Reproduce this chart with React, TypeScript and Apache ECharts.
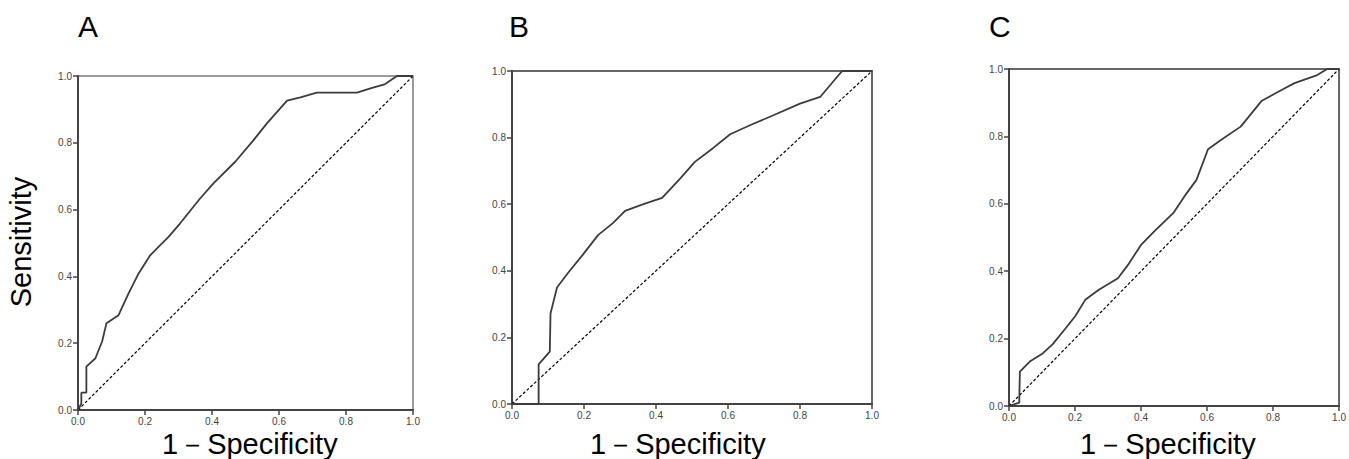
import React, { useEffect, useRef } from "react";
import * as echarts from "echarts";

const panelLabels = ["A", "B", "C"];
const yAxisTitle = "Sensitivity";
const xAxisTitle = "1－Specificity";
const diagonalX = [0, 1];
const diagonalY = [0, 1];

const fprA = [0, 0.01, 0.01, 0.025, 0.025, 0.052, 0.072, 0.085, 0.121, 0.151, 0.181, 0.216, 0.241, 0.271, 0.305, 0.365, 0.405, 0.47, 0.524, 0.564, 0.624, 0.664, 0.713, 0.833, 0.873, 0.917, 0.952, 1.0];
const tprA = [0, 0.02, 0.052, 0.052, 0.13, 0.155, 0.205, 0.26, 0.284, 0.349, 0.409, 0.464, 0.489, 0.519, 0.559, 0.634, 0.679, 0.744, 0.808, 0.858, 0.926, 0.936, 0.95, 0.95, 0.963, 0.976, 1.0, 1.0];

const fprB = [0, 0.074, 0.074, 0.105, 0.107, 0.125, 0.156, 0.198, 0.239, 0.281, 0.314, 0.365, 0.417, 0.467, 0.508, 0.559, 0.606, 0.661, 0.726, 0.8, 0.856, 0.917, 1.0];
const tprB = [0, 0, 0.119, 0.157, 0.272, 0.35, 0.394, 0.45, 0.507, 0.544, 0.58, 0.6, 0.619, 0.677, 0.727, 0.769, 0.81, 0.837, 0.867, 0.902, 0.922, 1.0, 1.0];

const fprC = [0, 0.031, 0.033, 0.063, 0.102, 0.132, 0.171, 0.201, 0.231, 0.271, 0.33, 0.36, 0.4, 0.444, 0.499, 0.538, 0.568, 0.603, 0.642, 0.702, 0.731, 0.766, 0.83, 0.865, 0.934, 0.964, 1.0];
const tprC = [0, 0.01, 0.102, 0.132, 0.156, 0.183, 0.23, 0.267, 0.315, 0.344, 0.379, 0.418, 0.478, 0.522, 0.574, 0.631, 0.671, 0.762, 0.789, 0.829, 0.864, 0.906, 0.94, 0.958, 0.982, 1.0, 1.0];

const curvesX = [fprA, fprB, fprC];
const curvesY = [tprA, tprB, tprC];

const zip = (xs: number[], ys: number[]) => xs.map((x, i) => [x, ys[i]]);

const grids = [
  { left: 78, top: 76, width: 335, height: 334, borderWidth: 1.5, borderColor: "#7a7a7a" },
  { left: 512, top: 71, width: 360, height: 333, borderWidth: 2, borderColor: "#666" },
  { left: 1009, top: 69, width: 336, height: 337, borderWidth: 2, borderColor: "#666" },
];
const titlePos = [
  { x: 78, y: 26 },
  { x: 509, y: 26 },
  { x: 989, y: 26 },
];
const xTitlePos = [162, 590, 1080];

export default function App() {
  const ref = useRef<HTMLDivElement>(null);
  useEffect(() => {
    document.body.style.margin = "0";
    const chart = echarts.init(ref.current!, null, { renderer: "svg" });
    const font = "'Liberation Sans', Arial, sans-serif";
    const axisCommon = {
      type: "value" as const,
      min: 0,
      max: 1,
      interval: 0.2,
      splitLine: { show: false },
      axisLine: { show: true, lineStyle: { color: "#444", width: 2 } },
      axisTick: { show: true, inside: false, length: 5, lineStyle: { color: "#444", width: 1.5 } },
      axisLabel: {
        fontSize: 10,
        color: "#444",
        fontFamily: font,
        formatter: (v: number) => v.toFixed(1),
      },
    };
    const series: any[] = [];
    for (let i = 0; i < 3; i++) {
      series.push({
        type: "line",
        xAxisIndex: i,
        yAxisIndex: i,
        data: zip(curvesX[i], curvesY[i]),
        showSymbol: false,
        symbol: "none",
        clip: false,
        lineStyle: { color: "#3c3c3c", width: 1.8 },
        z: 3,
      });
      series.push({
        type: "line",
        xAxisIndex: i,
        yAxisIndex: i,
        data: zip(diagonalX, diagonalY),
        showSymbol: false,
        symbol: "none",
        lineStyle: { color: "#000", width: 1.2, type: [3, 2] },
        z: 2,
      });
    }
    const graphics: any[] = [];
    panelLabels.forEach((lab, i) => {
      graphics.push({
        type: "text",
        x: titlePos[i].x,
        y: titlePos[i].y,
        style: {
          text: lab,
          font: `30px ${font}`,
          fill: "#000",
          textAlign: "left",
          textVerticalAlign: "middle",
        },
      });
      graphics.push({
        type: "text",
        x: xTitlePos[i],
        y: 444,
        style: {
          text: xAxisTitle,
          font: `29px ${font}`,
          fill: "#000",
          textAlign: "left",
          textVerticalAlign: "middle",
        },
      });
    });
    graphics.push({
      type: "text",
      x: 21,
      y: 242,
      rotation: Math.PI / 2,
      style: {
        text: yAxisTitle,
        font: `29px ${font}`,
        fill: "#000",
        textAlign: "center",
        textVerticalAlign: "middle",
      },
    });
    chart.setOption({
      animation: false,
      backgroundColor: "#fff",
      grid: grids.map((g) => ({ ...g, show: true, backgroundColor: "transparent", containLabel: false })),
      xAxis: grids.map((_, i) => ({
        ...axisCommon,
        gridIndex: i,
        axisLabel: { ...axisCommon.axisLabel, margin: 6 },
      })),
      yAxis: grids.map((_, i) => ({
        ...axisCommon,
        gridIndex: i,
        axisLabel: { ...axisCommon.axisLabel, margin: 6 },
      })),
      series,
      graphic: graphics,
    });
    return () => chart.dispose();
  }, []);
  return <div ref={ref} style={{ width: 1349, height: 459 }} />;
}
